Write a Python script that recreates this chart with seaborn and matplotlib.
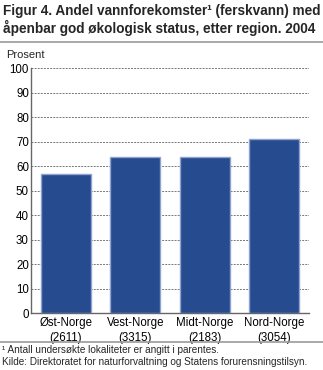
import matplotlib
matplotlib.use("Agg")
import matplotlib.pyplot as plt
import seaborn as sns
import pandas as pd

regions = ["Øst-Norge\n(2611)", "Vest-Norge\n(3315)", "Midt-Norge\n(2183)", "Nord-Norge\n(3054)"]
values = [57, 64, 64, 71]
yticks = [0, 10, 20, 30, 40, 50, 60, 70, 80, 90, 100]

sns.set_theme(style="white")
plt.rcParams['font.family'] = ['Liberation Sans', 'DejaVu Sans']

df = pd.DataFrame({"region": regions, "verdi": values})

W, H = 323, 370
fig = plt.figure(figsize=(W / 100, H / 100), dpi=100)
ax = fig.add_axes([31 / W, 1 - 313.3 / H, (309 - 31) / W, (313.3 - 68.3) / H])

sns.barplot(data=df, x="region", y="verdi", color="#264B8F", saturation=1,
            width=0.72, edgecolor="#8FA3CC", linewidth=1.0, ax=ax, zorder=3)

ax.set_ylim(0, 100)
ax.set_xlim(-0.5, 3.5)
ax.set_yticks(yticks)
ax.yaxis.grid(True, linestyle=(0, (2, 1.2)), color="#777777", linewidth=0.7, zorder=0)
ax.set_axisbelow(True)
ax.tick_params(axis="y", length=0, labelsize=8.3, colors="#000000", pad=1.5)
ax.tick_params(axis="x", length=0, labelsize=8.3, colors="#000000", pad=3)
for lbl in ax.get_xticklabels():
    lbl.set_linespacing(1.3)
ax.set_xlabel("")
ax.set_ylabel("")
for s in ["top", "right"]:
    ax.spines[s].set_visible(False)
for s in ["left", "bottom"]:
    ax.spines[s].set_color("#666666")
    ax.spines[s].set_linewidth(1.0)

fig.text(3 / W, 1 - 4 / H, "Figur 4. Andel vannforekomster¹ (ferskvann) med\nåpenbar god økologisk status, etter region. 2004",
         ha="left", va="top", fontsize=9.8, fontweight="bold", linespacing=1.15)
fig.add_artist(plt.Line2D([0, 1], [1 - 42 / H, 1 - 42 / H], color="#999999", linewidth=1.2, transform=fig.transFigure))
fig.text(6 / W, 1 - 55 / H, "Prosent", ha="left", va="center", fontsize=8)

fig.add_artist(plt.Line2D([0, 1], [1 - 342 / H, 1 - 342 / H], color="#999999", linewidth=1.2, transform=fig.transFigure))
fig.text(2 / W, 1 - 350 / H, "¹ Antall undersøkte lokaliteter er angitt i parentes.",
         ha="left", va="center", fontsize=7.2)
fig.text(2 / W, 1 - 362 / H, "Kilde: Direktoratet for naturforvaltning og Statens forurensningstilsyn.",
         ha="left", va="center", fontsize=7.2)

fig.savefig("out.png", dpi=100)
